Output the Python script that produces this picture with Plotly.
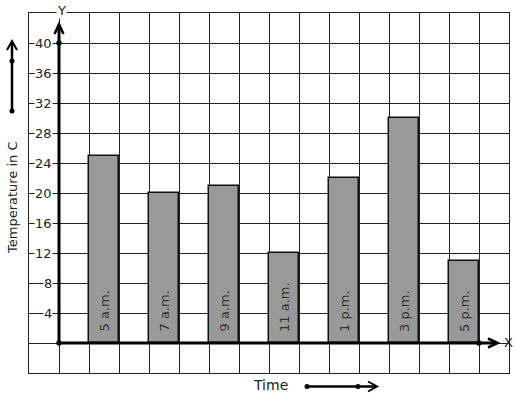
import plotly.graph_objects as go

# ---- data ----
times = ["5 a.m.", "7 a.m.", "9 a.m.", "11 a.m.", "1 p.m.", "3 p.m.", "5 p.m."]
temperatures = [25, 20, 21, 12, 22, 30, 11]
bar_positions = [1.5, 3.5, 5.5, 7.5, 9.5, 11.5, 13.5]
y_tick_values = [4, 8, 12, 16, 20, 24, 28, 32, 36, 40]
y_tick_labels = ["4", "8", "12", "16", "20", "24", "28", "32", "36", "40"]

FONT = "DejaVu Sans"
W, H = 517, 399
L, R, T, B = 29, 8, 13, 26
PW, PH = W - L - R, H - T - B


def px(x):
    return (x - L) / PW


def py(y):
    return (H - B - y) / PH


fig = go.Figure()

fig.add_trace(go.Bar(
    x=bar_positions, y=temperatures, width=1,
    marker=dict(color="#999999", line=dict(color="#111111", width=1.5)),
    hoverinfo="skip",
))

shapes = []
# thick axes
shapes.append(dict(type="line", xref="x", yref="y", x0=0, y0=0, x1=0, y1=42.4,
                   line=dict(color="black", width=3)))
shapes.append(dict(type="line", xref="x", yref="y", x0=0, y0=0, x1=14.6, y1=0,
                   line=dict(color="black", width=3)))
# arrowheads (chevrons)
shapes.append(dict(type="path", xref="x", yref="y",
                   path="M -0.15,41.2 L 0,42.5 L 0.15,41.2",
                   line=dict(color="black", width=2.5)))
shapes.append(dict(type="path", xref="x", yref="y",
                   path="M 14.3,0.6 L 14.62,0 L 14.3,-0.6",
                   line=dict(color="black", width=2.5)))
# dots on axes
for (dx, dy) in [(0, 0), (0, 40), (14, 0)]:
    shapes.append(dict(type="circle", xref="x", yref="y",
                       x0=dx - 0.09, x1=dx + 0.09, y0=dy - 0.36, y1=dy + 0.36,
                       fillcolor="black", line=dict(color="black", width=0)))

# left vertical decorative arrow
shapes.append(dict(type="line", xref="paper", yref="paper",
                   x0=px(12), x1=px(12), y0=py(111), y1=py(42),
                   line=dict(color="black", width=2.5)))
shapes.append(dict(type="path", xref="paper", yref="paper",
                   path=f"M {px(7)},{py(50)} L {px(12)},{py(41)} L {px(17)},{py(50)}",
                   line=dict(color="black", width=2)))
for yy in [61, 111]:
    shapes.append(dict(type="circle", xref="paper", yref="paper",
                       x0=px(9.5), x1=px(14.5), y0=py(yy + 2.5), y1=py(yy - 2.5),
                       fillcolor="black", line=dict(width=0)))

# bottom decorative arrow
shapes.append(dict(type="line", xref="paper", yref="paper",
                   x0=px(307), x1=px(376), y0=py(386.5), y1=py(386.5),
                   line=dict(color="black", width=2.5)))
shapes.append(dict(type="path", xref="paper", yref="paper",
                   path=f"M {px(368)},{py(381.5)} L {px(377)},{py(386.5)} L {px(368)},{py(391.5)}",
                   line=dict(color="black", width=2)))
for xx in [307, 358]:
    shapes.append(dict(type="circle", xref="paper", yref="paper",
                       x0=px(xx - 2.5), x1=px(xx + 2.5), y0=py(386.5 + 2.5), y1=py(386.5 - 2.5),
                       fillcolor="black", line=dict(width=0)))

annotations = []
for v, lab in zip(y_tick_values, y_tick_labels):
    annotations.append(dict(x=-0.2, y=v, xref="x", yref="y", text=lab, showarrow=False,
                            xanchor="right", yanchor="middle", bgcolor="white",
                            borderpad=0, font=dict(family=FONT, size=13, color="#222")))
# bar labels
for xb, lab in zip(bar_positions, times):
    annotations.append(dict(x=xb, y=0, xref="x", yref="y", text=lab, showarrow=False,
                            textangle=-90, xanchor="center", yanchor="bottom", yshift=9,
                            font=dict(family=FONT, size=13, color="#333333")))

annotations.append(dict(x=px(61), y=py(10), xref="paper", yref="paper", text="Y",
                        showarrow=False, bgcolor="white", borderpad=0,
                        xanchor="center", yanchor="middle",
                        font=dict(family=FONT, size=13, color="#222")))
annotations.append(dict(x=px(508), y=py(342), xref="paper", yref="paper", text="X",
                        showarrow=False, xanchor="center", yanchor="middle",
                        font=dict(family=FONT, size=13, color="#222")))
annotations.append(dict(x=px(13), y=py(198), xref="paper", yref="paper",
                        text="Temperature in C", textangle=-90, showarrow=False,
                        xanchor="center", yanchor="middle",
                        font=dict(family=FONT, size=13, color="#222")))
annotations.append(dict(x=px(270), y=py(385), xref="paper", yref="paper",
                        text="Time", showarrow=False, xanchor="center", yanchor="middle",
                        font=dict(family=FONT, size=14, color="#222")))

fig.update_layout(
    width=W, height=H,
    margin=dict(l=L, r=R, t=T, b=B, pad=0),
    paper_bgcolor="white", plot_bgcolor="white",
    showlegend=False, bargap=0,
    shapes=shapes, annotations=annotations,
    xaxis=dict(range=[-1, 15], dtick=1, tick0=0, showgrid=True, gridcolor="#222222",
               gridwidth=1.2, showticklabels=False, zeroline=False, ticks="",
               showline=True, mirror=True, linecolor="#222222", linewidth=1.2,
               fixedrange=True),
    yaxis=dict(range=[-4, 44], dtick=4, tick0=0, showgrid=True, gridcolor="#222222",
               gridwidth=1.2, showticklabels=False, zeroline=False, ticks="",
               showline=True, mirror=True, linecolor="#222222", linewidth=1.2,
               fixedrange=True),
)

fig.write_html("out.html", config={"displayModeBar": False},
               post_script="document.body.style.margin='0';document.body.style.overflow='hidden';")
